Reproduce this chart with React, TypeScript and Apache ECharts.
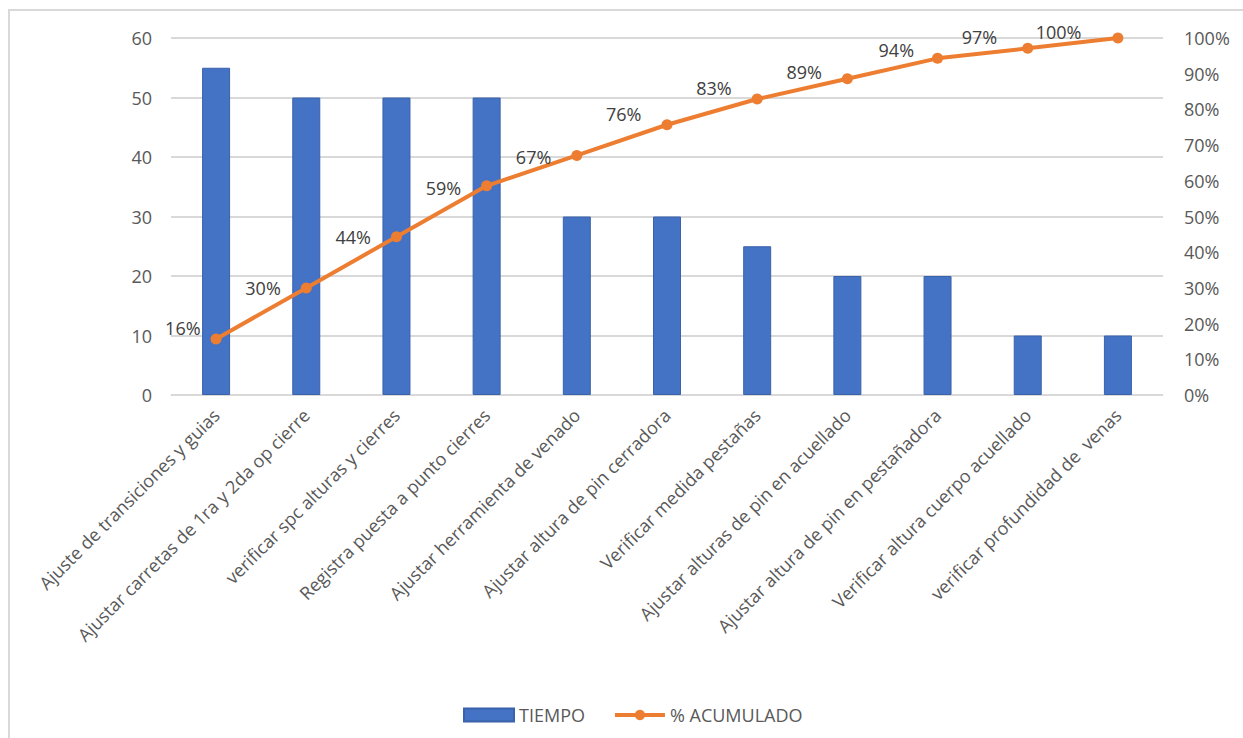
import React, { useEffect, useRef } from "react";
import * as echarts from "echarts";

const categories = [
  "Ajuste de transiciones y guias",
  "Ajustar carretas de 1ra y 2da op cierre",
  "verificar spc alturas y cierres",
  "Registra puesta a punto cierres",
  "Ajustar herramienta de venado",
  "Ajustar altura de pin cerradora",
  "Verificar medida pestañas",
  "Ajustar alturas de pin en acuellado",
  "Ajustar altura de pin en pestañadora",
  "Verificar altura cuerpo acuellado",
  "verificar profundidad de  venas",
];
const tiempo = [55, 50, 50, 50, 30, 30, 25, 20, 20, 10, 10];
const acumulado = [15.7, 30, 44.3, 58.6, 67.1, 75.7, 82.9, 88.6, 94.3, 97.1, 100];
const leftTicks = [0, 10, 20, 30, 40, 50, 60];

// label offsets (style only)
const labelOffsets: [number, number][] = [
  [10, -11], [0, 0], [0, 0], [0, 2], [0, 2], [0, -11], [0, -11], [0, -7], [2, -8], [-5, -11], [-11, -6],
];

const FONT = "'Open Sans', sans-serif";
const GREY = "#595959";

export default function App() {
  const ref = useRef<HTMLDivElement>(null);
  useEffect(() => {
    if (!ref.current) return;
    const chart = echarts.init(ref.current, undefined, { renderer: "svg" });
    chart.setOption({
      animation: false,
      backgroundColor: "#fff",
      textStyle: { fontFamily: FONT },
      graphic: [
        {
          type: "rect",
          shape: { x: 9, y: 10, width: 1400, height: 900 },
          style: { fill: "none", stroke: "#d9d9d9", lineWidth: 2 },
          silent: true,
        },
      ],
      grid: { left: 171, right: 80, top: 38, bottom: 343, containLabel: false },
      legend: {
        left: 458,
        top: 701,
        itemWidth: 50,
        itemHeight: 13,
        itemGap: 28,
        textStyle: { color: GREY, fontSize: 18, fontFamily: FONT },
        data: [
          { name: "TIEMPO", icon: "rect" },
          {
            name: "% ACUMULADO",
            itemStyle: { color: "#ED7D31" },
            lineStyle: { color: "#ED7D31", width: 4 },
          },
        ],
      },
      xAxis: {
        type: "category",
        data: categories,
        axisLine: { show: true, lineStyle: { color: "#d9d9d9", width: 1 } },
        axisTick: { show: false },
        axisLabel: {
          interval: 0,
          rotate: 45,
          margin: 17,
          color: GREY,
          fontSize: 18,
          fontFamily: FONT,
        },
      },
      yAxis: [
        {
          type: "value",
          min: leftTicks[0],
          max: leftTicks[leftTicks.length - 1],
          interval: 10,
          axisLine: { show: false },
          axisTick: { show: false },
          splitLine: { lineStyle: { color: "#d9d9d9", width: 2 } },
          axisLabel: { color: GREY, fontSize: 18, margin: 19, fontFamily: FONT },
        },
        {
          type: "value",
          min: 0,
          max: 100,
          interval: 10,
          axisLine: { show: false },
          axisTick: { show: false },
          splitLine: { show: false },
          axisLabel: {
            color: GREY,
            fontSize: 18,
            margin: 21,
            fontFamily: FONT,
            formatter: (v: number) => `${v}%`,
          },
        },
      ],
      series: [
        {
          name: "TIEMPO",
          type: "bar",
          data: tiempo,
          barWidth: 28,
          itemStyle: { color: "#4472C4", borderColor: "#3a62ab", borderWidth: 1 },
        },
        {
          name: "% ACUMULADO",
          type: "line",
          yAxisIndex: 1,
          data: acumulado.map((v, i) => ({
            value: v,
            label: { offset: labelOffsets[i] },
          })),
          symbol: "circle",
          symbolSize: 11,
          lineStyle: { color: "#ED7D31", width: 4 },
          itemStyle: { color: "#ED7D31" },
          label: {
            show: true,
            position: "left",
            distance: 20,
            color: "#404040",
            fontSize: 18,
            fontFamily: FONT,
            formatter: (p: any) => `${Math.round(p.value)}%`,
          },
        },
      ],
    });
    return () => chart.dispose();
  }, []);
  return (
    <div
      ref={ref}
      style={{ position: "absolute", left: 0, top: 0, width: 1243, height: 738 }}
    />
  );
}
